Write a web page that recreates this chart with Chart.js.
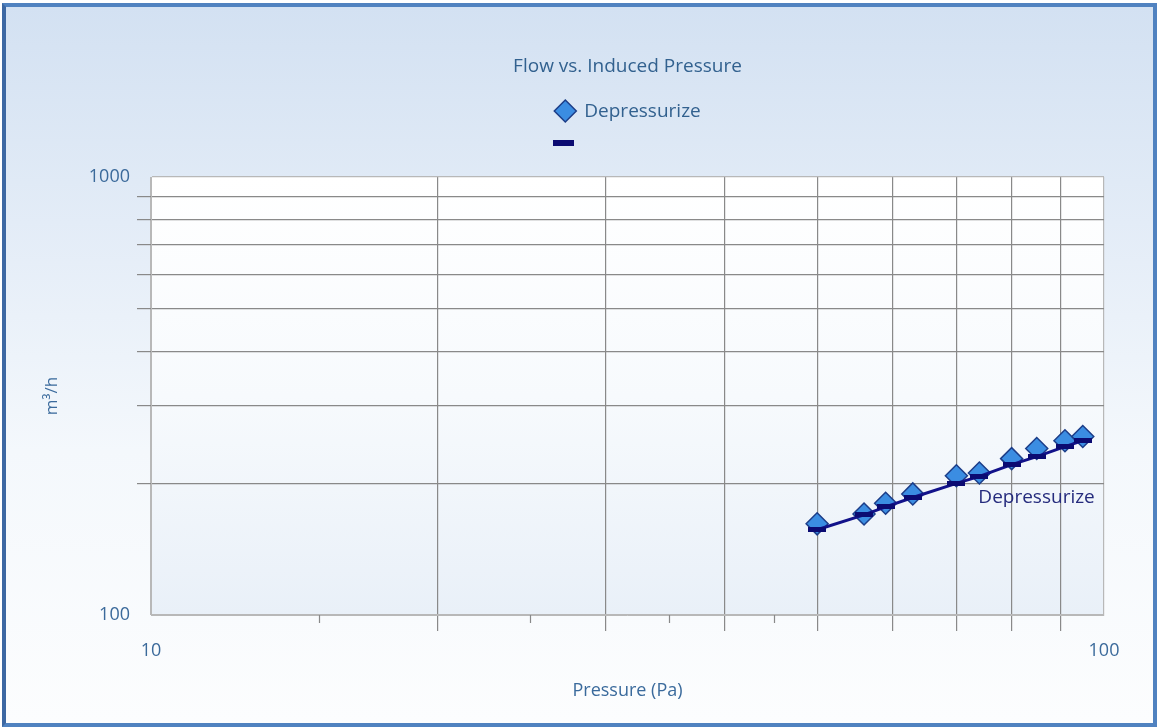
<!DOCTYPE html>
<html>
<head>
<meta charset="utf-8">
<script src="https://cdn.jsdelivr.net/npm/chart.js@4.4.1/dist/chart.umd.min.js"></script>
<style>
  html, body { margin: 0; padding: 0; width: 1157px; height: 727px; overflow: hidden; background: #ffffff; }
  #frame {
    position: absolute; left: 2px; top: 3px; width: 1147px; height: 716px;
    border: 4px solid #5082c0; border-left-color: #3d68a3;
    background: linear-gradient(to bottom, #d3e1f2 0%, #e3ecf7 30%, #f4f8fc 62%, #fcfdfe 100%);
  }
  #wrap { position: absolute; left: 0; top: 0; width: 1157px; height: 727px; }
</style>
</head>
<body>
<div id="frame"></div>
<div id="wrap"><canvas id="c" width="1157" height="727"></canvas></div>
<script>
// Chart text
const chartTitle = 'Flow vs. Induced Pressure';
const seriesName = 'Depressurize';
const xAxisTitle = 'Pressure (Pa)';
const yAxisTitle = 'm³/h';

// Measured points: induced pressure (Pa) and flow (m³/h)
const pressure = [50, 56, 59, 63, 70, 74, 80, 85, 91, 95];
const flow = [161.5, 170, 180, 189, 208, 211, 227.5, 240, 250, 255.5];

// Fitted curve at the same pressures
const fitPressure = [50, 56, 59, 63, 70, 74, 80, 85, 91, 95];
const fitFlow = [156.5, 169.3, 176.6, 185.5, 199.7, 207.2, 220.4, 229.9, 242.3, 250.1];

// Axis ticks
const xTickValues = [10, 15, 20, 25, 30, 35, 40, 45, 50, 60, 70, 80, 90, 100];
const xMinorTicks = [15, 25, 35, 45];
const xTickLabels = [10, 100];
const yTickValues = [100, 200, 300, 400, 500, 600, 700, 800, 900, 1000];
const yTickLabels = [100, 1000];

const FONT = "'Open Sans', 'Noto Sans', sans-serif";
const GRID = '#898989';
const EDGE = '#b8b8b8';
const TEXT = '#32618f';
const NONE = 'rgba(0,0,0,0)';

// short horizontal bar used as the fitted-curve marker
function makeDash(w, h, color) {
  const c = document.createElement('canvas');
  c.width = w; c.height = h;
  const g = c.getContext('2d');
  g.fillStyle = color;
  g.fillRect(0, 0, w, h);
  return c;
}
const dashMarker = makeDash(18, 5, '#0b0b72');

function xGrid(ctx) {
  const v = ctx.tick ? ctx.tick.value : null;
  if (xMinorTicks.includes(v)) return NONE;
  if (v === 10 || v === 100) return EDGE;
  return GRID;
}
function xTickCol(ctx) {
  const v = ctx.tick ? ctx.tick.value : null;
  if (xMinorTicks.includes(v) || v === 10 || v === 100) return NONE;
  return GRID;
}
function yGrid(ctx) {
  const v = ctx.tick ? ctx.tick.value : null;
  if (v === 100 || v === 1000) return EDGE;
  return GRID;
}
function yTickCol(ctx) {
  const v = ctx.tick ? ctx.tick.value : null;
  if (v === 100 || v === 1000) return NONE;
  return GRID;
}

// plot background, minor ticks, title, legend and series label
const decorations = {
  id: 'decorations',
  beforeDraw(chart) {
    const { ctx, chartArea: a } = chart;
    const g = ctx.createLinearGradient(0, a.top, 0, a.bottom);
    g.addColorStop(0, '#ffffff');
    g.addColorStop(0.5, '#f7fafd');
    g.addColorStop(1, '#e9f0f8');
    ctx.save();
    ctx.fillStyle = g;
    ctx.fillRect(a.left, a.top, a.right - a.left, a.bottom - a.top);
    ctx.restore();
  },
  afterDraw(chart) {
    const { ctx, chartArea: a } = chart;
    const xs = chart.scales.x;
    ctx.save();
    // minor ticks under the x axis
    ctx.strokeStyle = GRID;
    ctx.lineWidth = 1.2;
    xMinorTicks.forEach(v => {
      const px = Math.round(xs.getPixelForValue(v)) + 0.5;
      ctx.beginPath();
      ctx.moveTo(px, a.bottom);
      ctx.lineTo(px, a.bottom + 8);
      ctx.stroke();
    });

    const cx = (a.left + a.right) / 2;
    // title
    ctx.fillStyle = TEXT;
    ctx.font = `19px ${FONT}`;
    ctx.textAlign = 'center';
    ctx.textBaseline = 'middle';
    ctx.fillText(chartTitle, cx, 67);

    // legend
    const d0 = chart.data.datasets[0];
    ctx.font = `19px ${FONT}`;
    const tw = ctx.measureText(d0.label).width;
    const total = 22 + 8 + tw;
    const start = cx - total / 2;
    const mx = start + 11, my = 111;
    ctx.beginPath();
    ctx.moveTo(mx, my - 11);
    ctx.lineTo(mx + 11, my);
    ctx.lineTo(mx, my + 11);
    ctx.lineTo(mx - 11, my);
    ctx.closePath();
    ctx.fillStyle = d0.pointBackgroundColor;
    ctx.fill();
    ctx.lineWidth = d0.pointBorderWidth;
    ctx.strokeStyle = d0.pointBorderColor;
    ctx.stroke();
    ctx.fillStyle = TEXT;
    ctx.textAlign = 'left';
    ctx.fillText(d0.label, start + 30, my + 1);
    ctx.fillStyle = '#0b0b72';
    ctx.fillRect(Math.round(mx - 12), 140, 21, 6);

    // series label next to the end of the fitted curve
    const meta = chart.getDatasetMeta(1);
    const last = meta.data[meta.data.length - 1];
    ctx.font = `19px ${FONT}`;
    ctx.fillStyle = '#252b7d';
    ctx.textAlign = 'right';
    ctx.textBaseline = 'middle';
    ctx.fillText(seriesName, last.x + 12, last.y + 57);
    ctx.restore();
  }
};

new Chart(document.getElementById('c'), {
  type: 'scatter',
  data: {
    datasets: [
      {
        label: seriesName,
        data: pressure.map((p, i) => ({ x: p, y: flow[i] })),
        showLine: false,
        pointStyle: 'rectRot',
        pointRadius: 11,
        pointHoverRadius: 11,
        pointBackgroundColor: '#3b8de2',
        pointBorderColor: '#1c3d88',
        pointBorderWidth: 1.5,
        order: 2
      },
      {
        label: '',
        data: fitPressure.map((p, i) => ({ x: p, y: fitFlow[i] })),
        showLine: true,
        borderColor: '#12128a',
        borderWidth: 3,
        pointStyle: dashMarker,
        pointRadius: 9,
        pointHoverRadius: 9,
        order: 1
      }
    ]
  },
  options: {
    responsive: false,
    devicePixelRatio: 1,
    animation: false,
    layout: { padding: { top: 177, right: 53, left: 0, bottom: 0 } },
    plugins: {
      legend: { display: false },
      title: { display: false },
      tooltip: { enabled: false }
    },
    scales: {
      x: {
        type: 'logarithmic',
        position: 'bottom',
        min: 10,
        max: 100,
        afterBuildTicks: s => { s.ticks = xTickValues.map(v => ({ value: v })); },
        afterFit: s => { s.height = 112; },
        ticks: {
          autoSkip: false, maxRotation: 0, minRotation: 0, padding: 9,
          color: '#3b6a9b', font: { family: FONT, size: 18 },
          callback: v => (xTickLabels.includes(v) ? String(v) : '')
        },
        grid: { color: xGrid, tickColor: xTickCol, tickLength: 16, lineWidth: 1.2 },
        border: { color: EDGE, width: 1 },
        title: {
          display: true, text: xAxisTitle, color: '#3a6a9c',
          font: { family: FONT, size: 18 }, padding: { top: 0, bottom: 25 }
        }
      },
      y: {
        type: 'logarithmic',
        position: 'left',
        min: 100,
        max: 1000,
        afterBuildTicks: s => { s.ticks = yTickValues.map(v => ({ value: v })); },
        afterFit: s => { s.width = 151; },
        ticks: {
          autoSkip: false, padding: 7,
          color: '#3b6a9b', font: { family: FONT, size: 18 },
          callback: v => (yTickLabels.includes(v) ? String(v) : '')
        },
        grid: { color: yGrid, tickColor: yTickCol, tickLength: 14, lineWidth: 1.2 },
        border: { color: EDGE, width: 1 },
        title: {
          display: true, text: yAxisTitle, color: '#3a6a9c',
          font: { family: FONT, size: 17 }, padding: { top: 42, bottom: 0 }
        }
      }
    }
  },
  plugins: [decorations]
});
</script>
</body>
</html>
